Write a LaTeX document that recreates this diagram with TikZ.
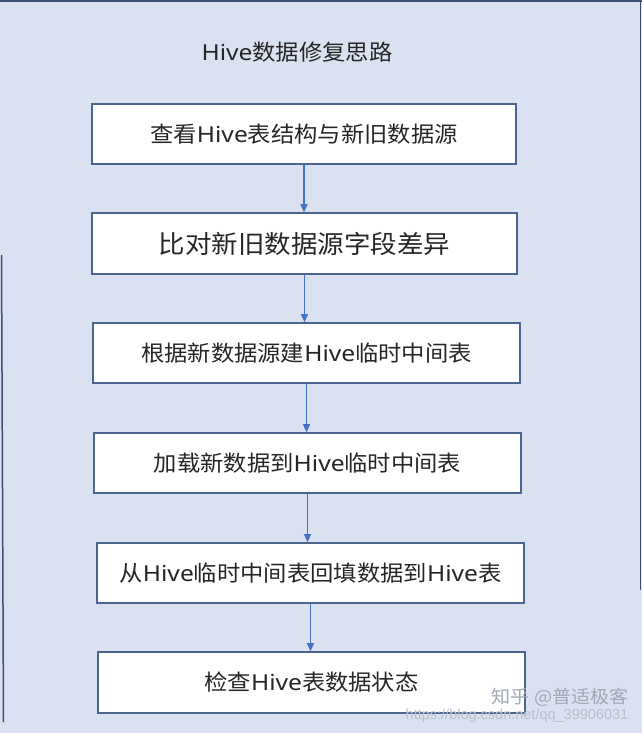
\documentclass[tikz,border=0pt]{standalone}
\usepackage{fontspec}
\usetikzlibrary{arrows.meta}
\newfontfamily\cjk[FakeStretch=1.06]{Noto Sans CJK SC}
\newfontfamily\lat[FakeStretch=1.12]{Noto Sans}
\newfontfamily\urlf{Liberation Sans}
\newcommand\hv{{\lat Hive}}
\definecolor{bgc}{RGB}{218,225,240}
\definecolor{boxc}{RGB}{74,101,144}
\definecolor{arrc}{RGB}{68,114,196}
\definecolor{txtc}{RGB}{38,38,38}
\definecolor{framec}{RGB}{62,80,115}
\definecolor{wmc}{RGB}{160,168,182}
\definecolor{wmd}{RGB}{185,192,205}
\begin{document}
\begin{tikzpicture}[x=1pt,y=-1pt,
  stepbox/.style={draw=boxc,line width=1.6pt,fill=white,inner sep=0pt,
    minimum height=60pt,text=txtc,font={\cjk\fontsize{22}{26}\selectfont}},
  titletext/.style={text=txtc,inner sep=0pt,font={\cjk\fontsize{22}{26}\selectfont}},
  flow/.style={draw=arrc,line width=1.3pt,-{Triangle[length=8pt,width=7pt]}},
  framel/.style={draw=framec,line width=1.5pt}]
\useasboundingbox (0,0) rectangle (642,733);
\fill[bgc] (0,0) rectangle (642,733);
\draw[framel] (0,1.2) -- (642,1.2);
\draw[framel] (640.5,0) -- (640.5,590);
\draw[framel] (1.5,255) -- (3.5,722);

\node[titletext] (title) at (297,52) {\hv 数据修复思路};

\node[stepbox,minimum width=424pt] (b1) at (304,134) {查看\hv 表结构与新旧数据源};
\node[stepbox,minimum width=425pt,minimum height=61pt,font={\cjk\fontsize{25}{30}\selectfont}] (b2) at (304.5,243.5) {比对新旧数据源字段差异};
\node[stepbox,minimum width=427pt] (b3) at (306.5,353) {根据新数据源建\hv 临时中间表};
\node[stepbox,minimum width=427pt] (b4) at (307.5,463) {加载新数据到\hv 临时中间表};
\node[stepbox,minimum width=427pt] (b5) at (310.5,573) {从\hv 临时中间表回填数据到\hv 表};
\node[stepbox,minimum width=427pt,minimum height=61pt] (b6) at (311.5,682.5) {检查\hv 表数据状态};

\draw[flow] (b1.south) -- (b1.south |- b2.north);
\draw[flow] (b2.south) -- (b2.south |- b3.north);
\draw[flow] (b3.south) -- (b3.south |- b4.north);
\draw[flow] (b4.south) -- (b4.south |- b5.north);
\draw[flow] (b5.south) -- (b5.south |- b6.north);

\node[text=wmc,inner sep=0pt,font={\cjk\fontsize{18}{21}\selectfont}] (wm1) at (560,697) {知乎 @普适极客};
\node[text=wmd,inner sep=0pt,font={\urlf\fontsize{14.5}{17}\selectfont}] (wm2) at (517,716) {https://blog.csdn.net/qq\_39906031};
\end{tikzpicture}
\end{document}
